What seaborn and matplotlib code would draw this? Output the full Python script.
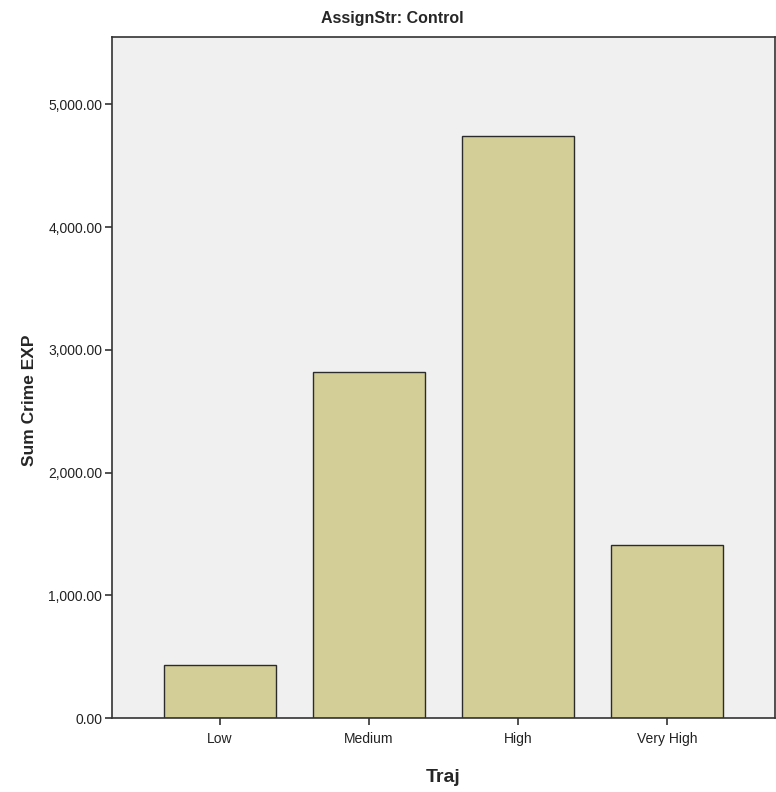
import matplotlib
matplotlib.use("Agg")
import matplotlib.pyplot as plt
from matplotlib.ticker import FuncFormatter
import pandas as pd
import seaborn as sns

traj = ["Low", "Medium", "High", "Very High"]
sum_crime = [432, 2820, 4745, 1410]
y_ticks = [0, 1000, 2000, 3000, 4000, 5000]

data = pd.DataFrame({"Traj": traj, "Sum Crime EXP": sum_crime})

sns.set_style("white")
plt.rcParams['font.family'] = ['Liberation Sans Narrow', 'Liberation Sans', 'DejaVu Sans']

fig = plt.figure(figsize=(7.76, 7.92), dpi=100)
ax = fig.add_axes([112 / 776, 74 / 792, 663 / 776, 681 / 792])
ax.set_facecolor("#F0F0F0")

sns.barplot(data=data, x="Traj", y="Sum Crime EXP", color="#D3CE97",
            saturation=1, width=0.75, edgecolor="#2b2b2b", linewidth=1.0, ax=ax)

ax.set_xlim(-0.72, 3.72)
ax.set_ylim(0, 5550)
ax.set_yticks(y_ticks)
ax.yaxis.set_major_formatter(FuncFormatter(lambda v, p: f"{v:,.2f}"))

for side in ["left", "right", "top", "bottom"]:
    ax.spines[side].set_visible(True)
    ax.spines[side].set_color("#333333")
    ax.spines[side].set_linewidth(1.2)

ax.tick_params(axis="both", direction="out", length=5, width=1.2, color="#333333",
               labelsize=10, labelcolor="#222222", pad=2, bottom=True, left=True)
ax.tick_params(axis="x", pad=5)

ax.set_xlabel("")
ax.set_ylabel("")
fig.text(30 / 776, 1 - 400 / 792, "Sum Crime EXP", rotation=90, ha="center", va="center",
         fontsize=12.5, fontweight="bold", family=["Liberation Sans", "DejaVu Sans"])
fig.text(443 / 776, 1 - 778 / 792, "Traj", ha="center", va="center",
         fontsize=14, fontweight="bold")
fig.text(392 / 776, 1 - 18 / 792, "AssignStr: Control", ha="center", va="center",
         fontsize=11.5, fontweight="bold")

fig.savefig("out.png", dpi=100)
